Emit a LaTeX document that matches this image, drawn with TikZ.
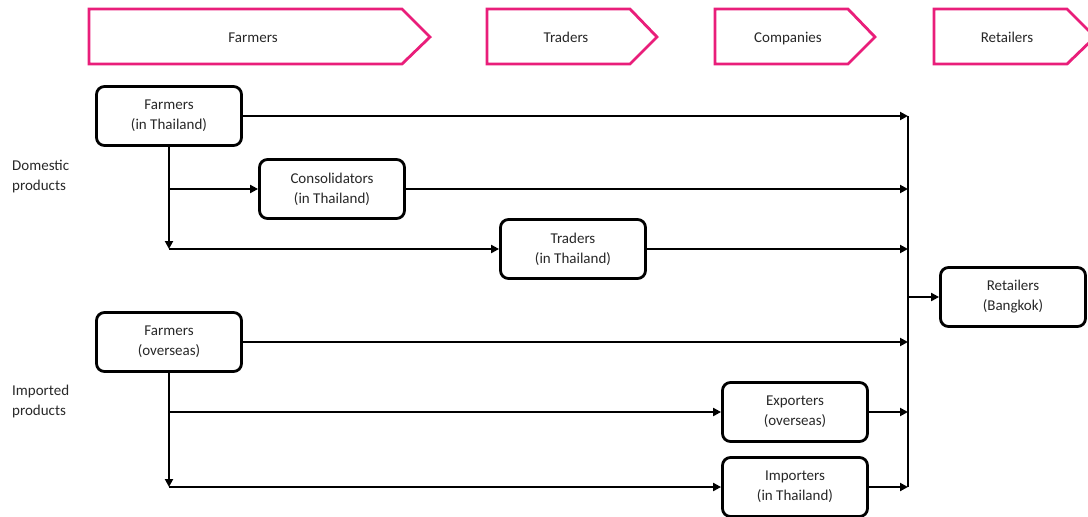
\documentclass[tikz,border=0pt]{standalone}
\usepackage{fontspec}
\setmainfont{Carlito}
\usetikzlibrary{arrows.meta}
\definecolor{stagepink}{RGB}{233,30,122}
\definecolor{txt}{RGB}{40,40,40}
\begin{document}
\begin{tikzpicture}[x=1pt,y=-1pt,
  every node/.style={font=\fontsize{15}{20}\selectfont, text=txt},
  stage/.style={draw=stagepink, line width=2.8pt, line join=miter, fill=white},
  stagetext/.style={anchor=base, inner sep=0pt},
  actor/.style={draw=black, line width=2.8pt, rounded corners=8pt, fill=white,
    minimum width=145pt, minimum height=59pt, align=center, inner sep=0pt},
  flow/.style={line width=2.5pt, -{Triangle[length=8pt,width=8pt]}},
  bus/.style={line width=2.5pt},
  side/.style={align=left, anchor=north west, inner sep=0pt}]
\useasboundingbox (0,0) rectangle (1088,517);

% stage chevrons along the top
\draw[stage] (89,9) -- (402,9) -- (430,37) -- (402,64) -- (89,64) -- cycle;
\draw[stage] (487,9) -- (630,9) -- (657,37) -- (630,64) -- (487,64) -- cycle;
\draw[stage] (715,9) -- (848,9) -- (875,37) -- (848,64) -- (715,64) -- cycle;
\draw[stage] (934,9) -- (1067,9) -- (1095,37) -- (1067,64) -- (934,64) -- cycle;
\node[stagetext] (s1) at (253,42.5) {Farmers};
\node[stagetext] (s2) at (566,42.5) {Traders};
\node[stagetext] (s3) at (788,42.5) {Companies};
\node[stagetext] (s4) at (1007,42.5) {Retailers};

% row labels
\node[side] (dom) at (12,160) {Domestic\\products};
\node[side] (imp) at (12,385) {Imported\\products};

% actors
\node[actor] (f1) at (169,116) {Farmers\\(in Thailand)};
\node[actor] (co) at (332,189) {Consolidators\\(in Thailand)};
\node[actor] (tr) at (573,249) {Traders\\(in Thailand)};
\node[actor] (f2) at (169,342) {Farmers\\(overseas)};
\node[actor] (ex) at (795,412) {Exporters\\(overseas)};
\node[actor] (im) at (795,487) {Importers\\(in Thailand)};
\node[actor] (re) at (1013,297) {Retailers\\(Bangkok)};

% junction points
\coordinate (b1) at (908,116);
\coordinate (b2) at (908,189);
\coordinate (b3) at (908,249);
\coordinate (br) at (908,297);
\coordinate (b4) at (908,342);
\coordinate (b5) at (908,412);
\coordinate (b6) at (908,487);
\coordinate (d1) at (169,189);
\coordinate (d2) at (169,249);
\coordinate (e1) at (169,412);
\coordinate (e2) at (169,487);

% collecting bus towards the retailers
\draw[bus] (b1) -- (b6);
\draw[flow] (br) -- (re.west);

% domestic flows
\draw[flow] (f1.east) -- (b1);
\draw[flow] (f1.south) -- (d2);
\draw[flow] (d1) -- (co.west);
\draw[flow] (d2) -- (tr.west);
\draw[flow] (co.east) -- (b2);
\draw[flow] (tr.east) -- (b3);

% imported flows
\draw[flow] (f2.east) -- (b4);
\draw[flow] (f2.south) -- (e2);
\draw[flow] (e1) -- (ex.west);
\draw[flow] (e2) -- (im.west);
\draw[flow] (ex.east) -- (b5);
\draw[flow] (im.east) -- (b6);
\end{tikzpicture}
\end{document}
